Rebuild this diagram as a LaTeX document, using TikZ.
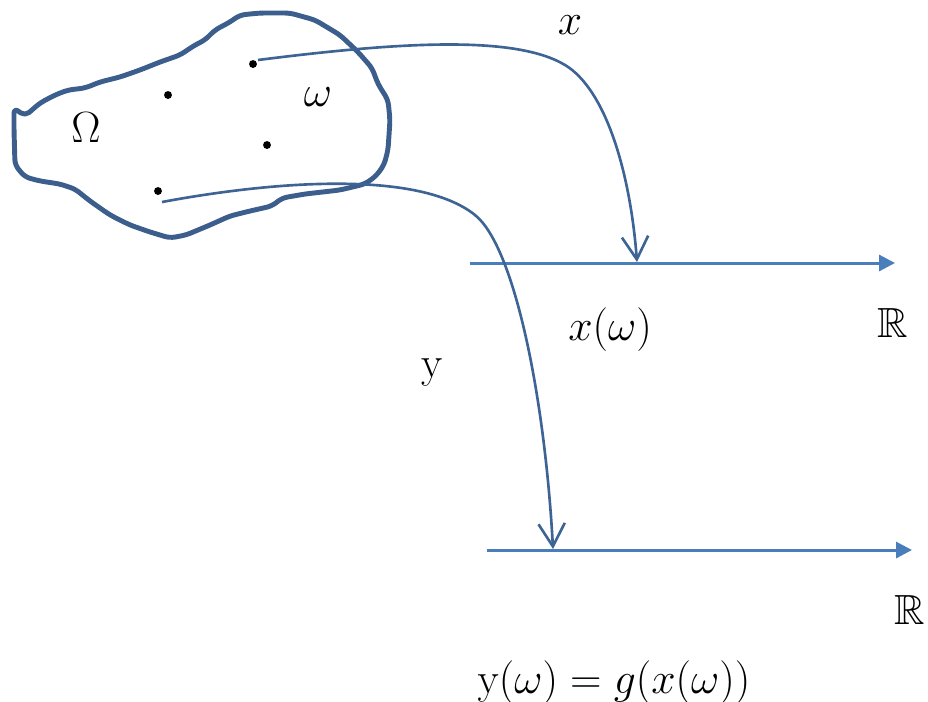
\documentclass[tikz,border=0pt]{standalone}
\usepackage{amsmath}
\usepackage{amssymb}
\usepackage{tikz}
\usetikzlibrary{arrows.meta}

\definecolor{blobblue}{HTML}{3B5E8C}
\definecolor{mapblue}{HTML}{3D6494}
\definecolor{axisblue}{HTML}{4A7EBB}

\tikzset{
  lbl/.style={font=\fontsize{24}{28}\selectfont, inner sep=0pt},
  pt/.style={circle, fill=black, inner sep=0pt, minimum size=4.5pt},
  mapline/.style={draw=mapblue, line width=1.5pt, -{Straight Barb[length=13pt, width=15pt, line width=1.5pt]}},
  axisline/.style={draw=axisblue, line width=1.7pt, -{Triangle[length=9pt, width=9pt]}}
}

\begin{document}
\begin{tikzpicture}[x=0.02cm, y=-0.02cm]
\useasboundingbox (0,0) rectangle (928,701);

% the set Omega
\draw[blobblue, line width=2.8pt, line join=round, rounded corners=3pt] (14,108) -- (25,116) -- (40,103) -- (55,95) -- (68,90) -- (85,88)
  -- (100,82) -- (120,77) -- (140,70) -- (160,62) -- (180,55) -- (195,45) -- (205,40) -- (215,30)
  -- (230,22) -- (240,15) -- (260,13) -- (290,13) -- (315,20) -- (340,35) -- (358,52) -- (372,68)
  -- (378,84) -- (388,100) -- (390,120) -- (388,150) -- (384,165) -- (376,176) -- (365,184)
  -- (340,190) -- (305,194) -- (282,198) -- (272,206) -- (250,211) -- (230,216) -- (210,225)
  -- (186,235) -- (170,238) -- (150,232) -- (130,225) -- (110,215) -- (90,201) -- (75,189)
  -- (60,184) -- (40,181) -- (25,177) -- (15,165) -- (14,130) -- cycle;

% points of Omega
\node[pt] (w1) at (253,64) {};
\node[pt] (w2) at (168,95) {};
\node[pt] (w3) at (267,145) {};
\node[pt] (w4) at (158,191) {};
\coordinate (x0) at (258,60);
\coordinate (y0) at (162,202);

% the two real lines
\coordinate (ra) at (470,263);
\coordinate (rb) at (895,263);
\coordinate (sa) at (487,550);
\coordinate (sb) at (912,550);
\draw[axisline] (ra) -- (rb);
\draw[axisline] (sa) -- (sb);
\coordinate (xw) at (637,262);
\coordinate (yw) at (553,549);

% maps
\draw[mapline] (x0) .. controls (400,42) and (515,35) .. (565,65) .. controls (605,89) and (630,170) .. (xw);
\draw[mapline] (y0) .. controls (280,180) and (420,171) .. (475,215) .. controls (515,247) and (545,400) .. (yw);

% labels
\node[lbl] (omega) at (86,128) {$\Omega$};
\node[lbl] (w) at (318,97) {$\omega$};
\node[lbl] (xlab) at (570,25) {$x$};
\node[lbl] (ylab) at (432,372) {$\mathrm{y}$};
\node[lbl] (xval) at (610,330) {$x(\omega)$};
\node[lbl] (R1) at (893,323) {$\mathbb{R}$};
\node[lbl] (R2) at (910,610) {$\mathbb{R}$};
\node[lbl] (yval) at (614,683) {$\mathrm{y}(\omega)=g(x(\omega))$};
\end{tikzpicture}
\end{document}
